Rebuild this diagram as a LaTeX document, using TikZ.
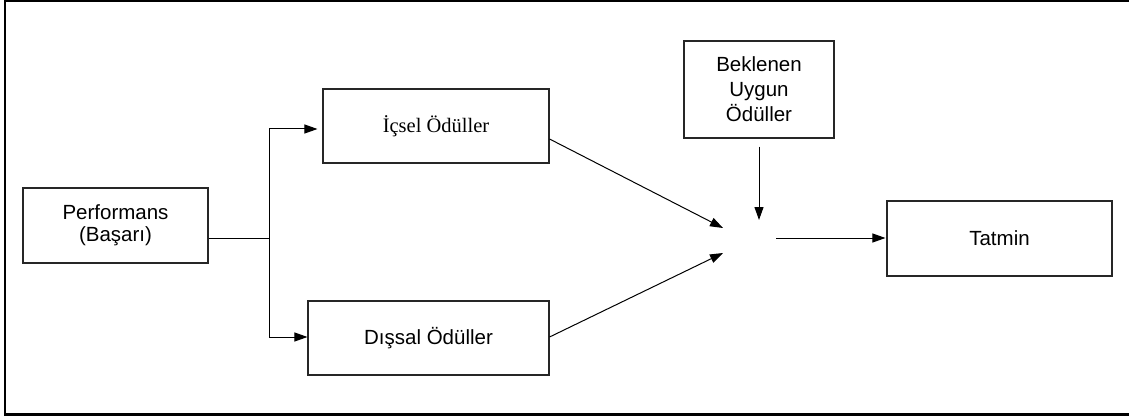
\documentclass[tikz,border=0pt]{standalone}
\usepackage{fontspec}
\setmainfont{Liberation Sans}
\newfontfamily\serifbox{Liberation Serif}
\usetikzlibrary{arrows.meta,calc}
\begin{document}
\begin{tikzpicture}[x=1pt,y=-1pt,
  box/.style={draw=black!85,line width=1.1pt,rectangle,inner sep=0pt,align=center,
    font=\fontsize{20.5}{24}\selectfont},
  conn/.style={line width=1pt,black},
  arr/.style={conn,-{Triangle[length=13pt,width=9pt]}}]
\useasboundingbox (0,0) rectangle (1129,417);
\draw[line width=2.6pt] (1135,1) -- (5,1) -- (5,414.5) -- (1135,414.5);
\node[box,minimum width=185pt,minimum height=75pt,font=\fontsize{20.5}{21.5}\selectfont] (perf) at (115.5,225.5) {Performans\\(Başarı)};
\node[box,minimum width=226pt,minimum height=74pt,font=\serifbox\fontsize{20.5}{24}\selectfont] (ic) at (436,126) {İçsel Ödüller};
\node[box,minimum width=241pt,minimum height=74pt] (dis) at (428.5,338) {Dışsal Ödüller};
\node[box,minimum width=150pt,minimum height=97pt,font=\fontsize{20.5}{25}\selectfont] (bek) at (759,89.5) {Beklenen\\Uygun\\Ödüller};
\node[box,minimum width=225pt,minimum height=75pt] (tat) at (999.5,238.5) {Tatmin};
\coordinate (sp) at (269,238);
\coordinate (h1) at (723,228);
\coordinate (h2) at (723,253);
\coordinate (ht) at (759,220);
\coordinate (ho) at (776,238);
\draw[conn] (perf.east|-sp) -- (sp);
\draw[arr,shorten >=5pt] (sp) |- ($(ic.west)+(0,3)$);
\draw[arr] (sp) |- ($(dis.west)+(0,-1)$);
\draw[arr] ($(ic.east)+(0,13)$) -- (h1);
\draw[arr] ($(dis.east)+(0,-1)$) -- (h2);
\draw[arr] ($(bek.south)+(0,8)$) -- (ht);
\draw[arr,shorten >=1pt] (ho) -- (tat.west|-ho);
\end{tikzpicture}
\end{document}
